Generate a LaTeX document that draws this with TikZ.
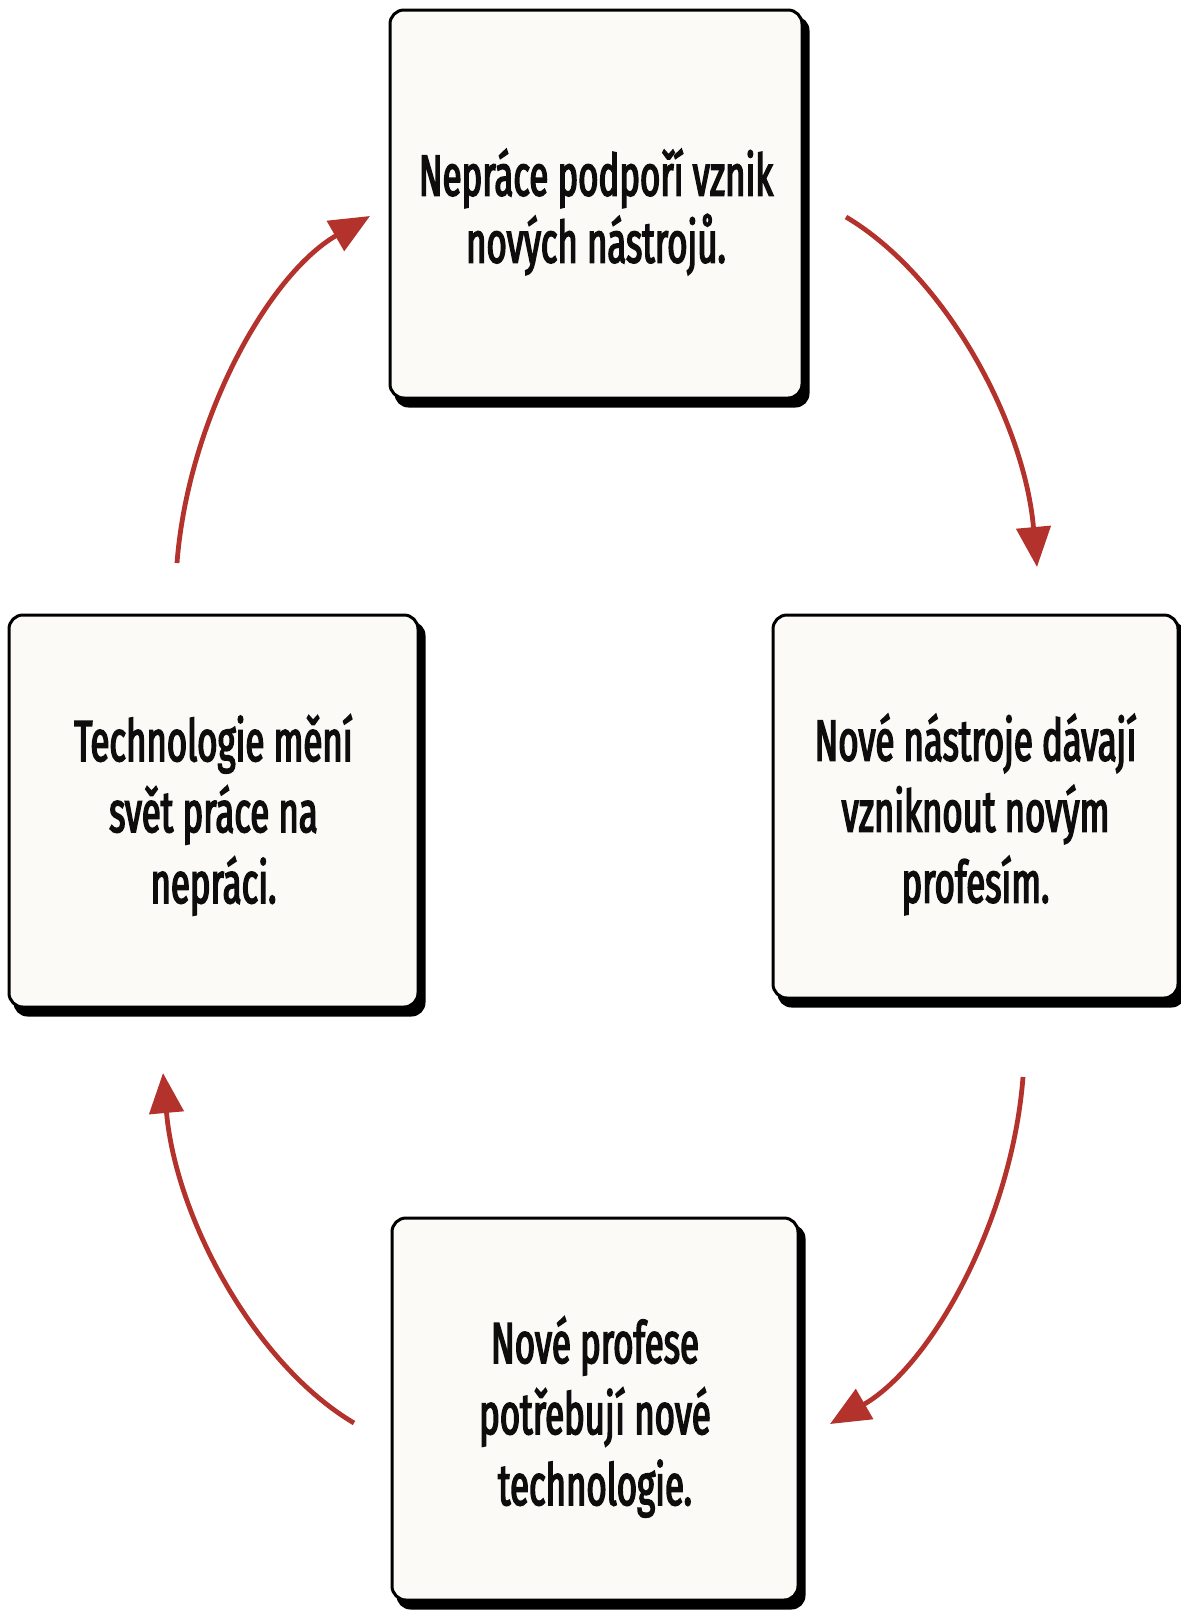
\documentclass[tikz,border=0pt]{standalone}
\usepackage{fontspec}
\newfontfamily\boxfont{Fira Sans}[FakeStretch=0.6, FakeBold=2.6]
\usetikzlibrary{arrows.meta,backgrounds,calc}
\definecolor{boxfill}{HTML}{FBFAF7}
\definecolor{arrowred}{HTML}{B3322C}
\tikzset{
  cardbox/.style={draw=black, line width=1.5pt, fill=boxfill, rounded corners=7pt,
    inner sep=0pt},
  cardtext/.style={align=center, text=black!95, inner sep=0pt,
    font=\boxfont\fontsize{29}{35.5}\selectfont},
  cardshadow/.style={fill=black, rounded corners=7pt},
  cyclearrow/.style={draw=arrowred, line width=2.4pt,
    -{Triangle[length=20pt,width=17pt]}}
}
\newcommand{\cardshadowof}[1]{%
  \fill[cardshadow] ($(#1.south west)+(6,8)$) rectangle ($(#1.north east)+(6,8)$);}
\begin{document}
\begin{tikzpicture}[x=0.5pt,y=-0.5pt]
\useasboundingbox (0,0) rectangle (1180,1618);
\node[cardbox, minimum width=206pt, minimum height=194pt] (top) at (596,204) {};
\node[cardbox, minimum width=202.5pt, minimum height=191.5pt] (right) at (975.5,806.5) {};
\node[cardbox, minimum width=203pt, minimum height=191pt] (bottom) at (595,1409) {};
\node[cardbox, minimum width=204.5pt, minimum height=196pt] (left) at (213.5,811) {};
\node[cardtext, font=\boxfont\fontsize{29}{33.5}\selectfont] (toptext) at ($(top.center)+(0,8)$)
  {Nepráce podpoří vznik\\nových nástrojů.};
\node[cardtext] (righttext) at ($(right.center)+(0,8)$)
  {Nové nástroje dávají\\vzniknout novým\\profesím.};
\node[cardtext] (bottomtext) at ($(bottom.center)+(0,8)$)
  {Nové profese\\potřebují nové\\technologie.};
\node[cardtext] (lefttext) at ($(left.center)+(0,4)$)
  {Technologie mění\\svět práce na\\nepráci.};
\begin{scope}[on background layer]
  \cardshadowof{top}
  \cardshadowof{right}
  \cardshadowof{bottom}
  \cardshadowof{left}
\end{scope}
\coordinate (a1s) at (177,563);
\coordinate (a1e) at (370,216);
\coordinate (a2s) at (846,217);
\coordinate (a2e) at (1037,567);
\coordinate (a3s) at (1023,1077);
\coordinate (a3e) at (830,1424);
\coordinate (a4s) at (354,1423);
\coordinate (a4e) at (163,1073);
\draw[cyclearrow] (a1s) .. controls (188,420) and (268,275) .. (a1e);
\draw[cyclearrow] (a2s) .. controls (944,275) and (1024,420) .. (a2e);
\draw[cyclearrow] (a3s) .. controls (1012,1220) and (932,1365) .. (a3e);
\draw[cyclearrow] (a4s) .. controls (256,1365) and (176,1220) .. (a4e);
\end{tikzpicture}
\end{document}
